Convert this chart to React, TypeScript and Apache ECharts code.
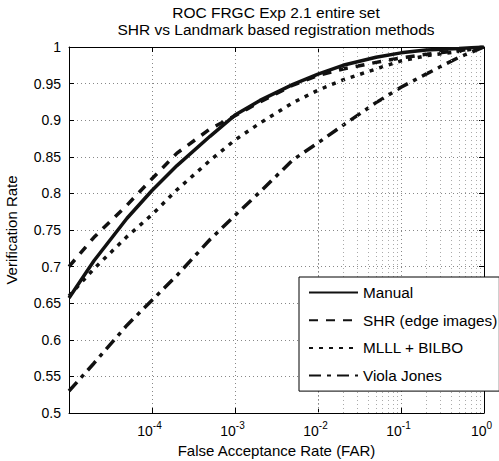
import React, { useEffect, useRef } from 'react';
import * as echarts from 'echarts';

const FAR = [1e-5, 2e-5, 5e-5, 1e-4, 2e-4, 5e-4, 1e-3, 2e-3, 5e-3, 1e-2, 2e-2, 5e-2, 0.1, 0.2, 0.5, 1];
const MANUAL = [0.657, 0.708, 0.766, 0.804, 0.838, 0.878, 0.907, 0.927, 0.949, 0.963, 0.975, 0.986, 0.992, 0.996, 0.998, 1.0];
const SHR = [0.700, 0.740, 0.784, 0.820, 0.855, 0.888, 0.906, 0.925, 0.948, 0.961, 0.970, 0.979, 0.985, 0.990, 0.995, 1.0];
const MLLL = [0.660, 0.697, 0.741, 0.771, 0.805, 0.845, 0.873, 0.896, 0.924, 0.941, 0.955, 0.970, 0.981, 0.988, 0.994, 1.0];
const VIOLA = [0.530, 0.568, 0.620, 0.654, 0.688, 0.737, 0.770, 0.802, 0.846, 0.869, 0.893, 0.924, 0.945, 0.963, 0.986, 1.0];

const SERIES_NAMES = ['Manual', 'SHR (edge images)', 'MLLL + BILBO', 'Viola Jones'];
const SERIES_VALUES = [MANUAL, SHR, MLLL, VIOLA];
const DASHES: any[] = ['solid', [9, 8], [4, 6], [12, 6, 4, 6]];

const TITLE_LINES = ['ROC FRGC Exp 2.1 entire set', 'SHR vs Landmark based registration methods'];
const X_NAME = 'False Acceptance Rate (FAR)';
const Y_NAME = 'Verification Rate';

const X_MIN = 1e-5;
const X_MAX = 1;
const Y_MIN = 0.5;
const Y_MAX = 1;
const Y_STEP = 0.05;

const MINOR_X: number[] = [];
for (let e = -5; e < 0; e++) {
  for (let k = 2; k <= 9; k++) MINOR_X.push(k * Math.pow(10, e));
}

const FONT = 'Arial, Liberation Sans, Helvetica, sans-serif';
const INK = '#111';

export default function App() {
  const ref = useRef<HTMLDivElement>(null);
  useEffect(() => {
    document.body.style.margin = '0';
    const chart = echarts.init(ref.current!, null, { renderer: 'svg' });
    const gridLine = { show: true, lineStyle: { color: '#888', type: [1, 3] as any, width: 1 } };
    const option: any = {
      animation: false,
      backgroundColor: '#fff',
      textStyle: { fontFamily: FONT },
      title: {
        text: TITLE_LINES.join('\n'),
        left: 276,
        top: 4,
        textAlign: 'center',
        padding: 0,
        textStyle: { fontFamily: FONT, fontSize: 15.5, fontWeight: 'normal', color: '#000', lineHeight: 17 },
      },
      grid: { left: 69, top: 47, right: 15, bottom: 48, outerBoundsMode: 'none', containLabel: false },
      legend: {
        data: SERIES_NAMES,
        orient: 'vertical',
        left: 299,
        top: 277,
        padding: [8, 2, 8, 9],
        itemGap: 12.7,
        itemWidth: 49,
        itemHeight: 15,
        borderColor: '#000',
        borderWidth: 1,
        borderRadius: 0,
        backgroundColor: '#fff',
        itemStyle: { opacity: 0 },
        textStyle: { fontFamily: FONT, fontSize: 15.3, color: '#000', lineHeight: 15 },
        z: 10,
      },
      xAxis: [
        {
          type: 'log',
          logBase: 10,
          min: X_MIN,
          max: X_MAX,
          name: X_NAME,
          nameLocation: 'middle',
          nameGap: 21,
          nameTextStyle: { fontFamily: FONT, fontSize: 15, color: '#000' },
          axisLine: { show: true, lineStyle: { color: '#000', width: 1 } },
          axisTick: { show: true, inside: true, length: 5, lineStyle: { color: '#000' } },
          splitLine: gridLine,
          axisLabel: {
            showMinLabel: false,
            margin: 7,
            padding: [0, 5, 0, 0],
            formatter: (v: number) => `{b|10}{s|${Math.round(Math.log10(v))}}`,
            rich: {
              b: { fontFamily: FONT, fontSize: 14, color: '#000', lineHeight: 18, verticalAlign: 'bottom' },
              s: { fontFamily: FONT, fontSize: 10, color: '#000', lineHeight: 10, verticalAlign: 'top' },
            },
          },
        },
        {
          type: 'log',
          logBase: 10,
          min: X_MIN,
          max: X_MAX,
          position: 'top',
          axisLine: { show: true, lineStyle: { color: '#000', width: 1 } },
          axisTick: { show: true, inside: true, length: 5, lineStyle: { color: '#000' } },
          axisLabel: { show: false },
          splitLine: { show: false },
        },
      ],
      yAxis: [
        {
          type: 'value',
          min: Y_MIN,
          max: Y_MAX,
          interval: Y_STEP,
          name: Y_NAME,
          nameLocation: 'middle',
          nameGap: 50,
          nameTextStyle: { fontFamily: FONT, fontSize: 15, color: '#000' },
          axisLine: { show: true, lineStyle: { color: '#000', width: 1 } },
          axisTick: { show: true, inside: true, length: 5, lineStyle: { color: '#000' } },
          splitLine: gridLine,
          axisLabel: { fontFamily: FONT, fontSize: 14, color: '#000', margin: 8 },
        },
        {
          type: 'value',
          min: Y_MIN,
          max: Y_MAX,
          interval: Y_STEP,
          position: 'right',
          axisLine: { show: true, lineStyle: { color: '#000', width: 1 } },
          axisTick: { show: true, inside: true, length: 5, lineStyle: { color: '#000' } },
          axisLabel: { show: false },
          splitLine: { show: false },
        },
      ],
      series: [
        {
          name: 'minor-grid',
          type: 'line',
          data: [],
          silent: true,
          z: 1,
          markLine: {
            silent: true,
            symbol: 'none',
            label: { show: false },
            lineStyle: { color: '#aaa', type: [1, 3], width: 1 },
            emphasis: { disabled: true },
            data: MINOR_X.map((v) => ({ xAxis: v })),
          },
        },
        ...SERIES_NAMES.map((name, i) => ({
          name,
          type: 'line',
          data: FAR.map((f, j) => [f, SERIES_VALUES[i][j]]),
          showSymbol: false,
          symbol: 'none',
          smooth: false,
          z: 5 - i,
          lineStyle: { color: INK, width: 3.5, type: DASHES[i] },
          itemStyle: { color: INK },
        })),
      ],
    };
    chart.setOption(option);
    return () => chart.dispose();
  }, []);
  return <div ref={ref} style={{ width: 499, height: 461 }} />;
}
